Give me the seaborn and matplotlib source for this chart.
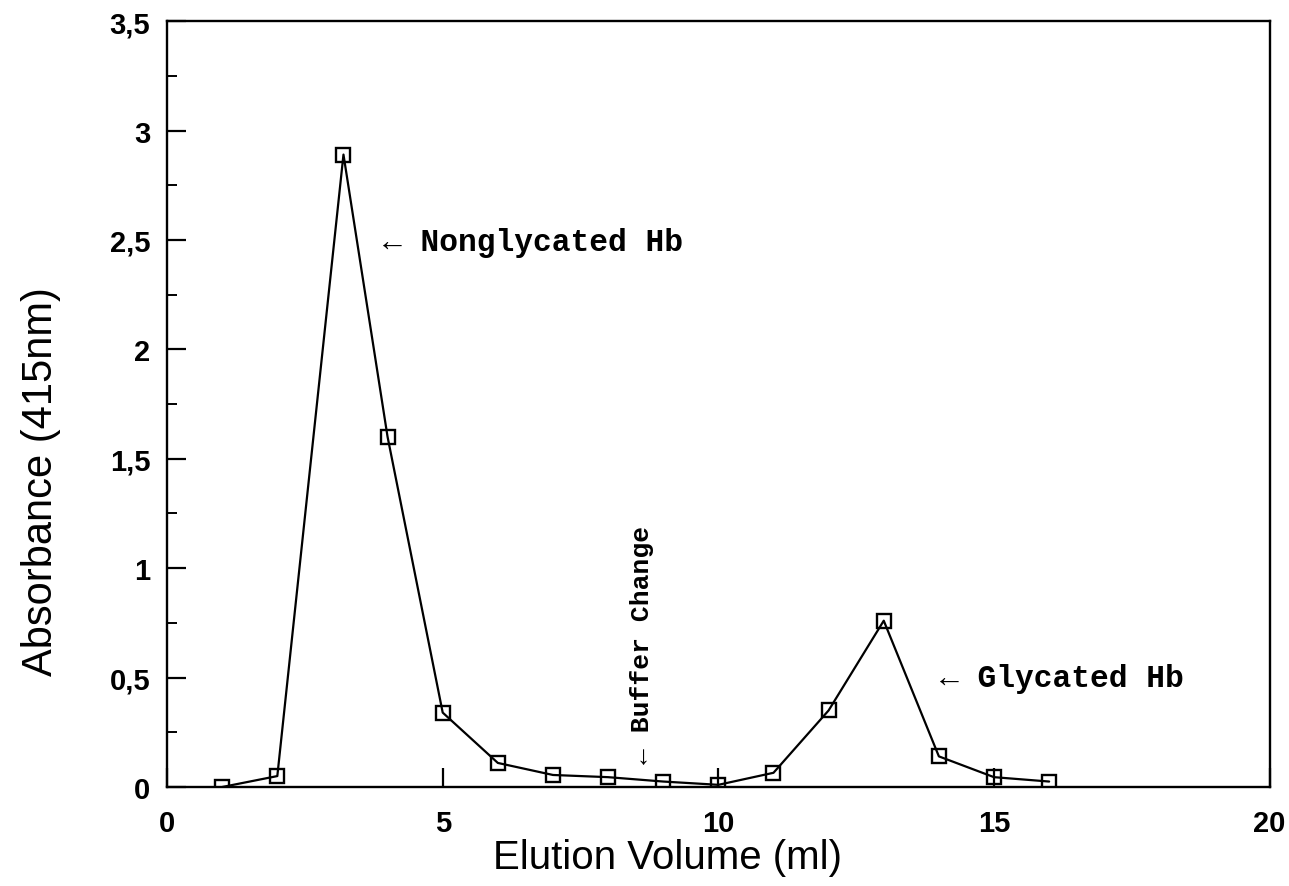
import matplotlib
matplotlib.use("Agg")
import matplotlib.pyplot as plt
import seaborn as sns
import pandas as pd
from matplotlib.ticker import FixedLocator, FixedFormatter, MultipleLocator

# Elution profile of haemoglobin on the affinity column
volume_ml = [1, 2, 3.2, 4, 5, 6, 7, 8, 9, 10, 11, 12, 13, 14, 15, 16]
absorbance = [0.0, 0.05, 2.89, 1.60, 0.34, 0.11, 0.055, 0.045, 0.025, 0.01,
              0.065, 0.35, 0.76, 0.14, 0.045, 0.025]

y_ticks = [0, 0.5, 1, 1.5, 2, 2.5, 3, 3.5]
y_tick_labels = ["0", "0,5", "1", "1,5", "2", "2,5", "3", "3,5"]
x_ticks = [0, 5, 10, 15, 20]
x_tick_labels = ["0", "5", "10", "15", "20"]

df = pd.DataFrame({"volume": volume_ml, "absorbance": absorbance})

sns.set_style("ticks")
plt.rcParams["font.family"] = ["Liberation Sans", "DejaVu Sans"]
for key in ["text.color", "axes.labelcolor", "xtick.color", "ytick.color",
            "axes.edgecolor"]:
    plt.rcParams[key] = "black"

fig = plt.figure(figsize=(12.89, 8.87), dpi=100)
ax = fig.add_axes([0.1296, 0.1116, 0.8554, 0.8635])

sns.lineplot(data=df, x="volume", y="absorbance", ax=ax, color="black",
             linewidth=1.6, marker="s", markersize=10, markerfacecolor="none",
             markeredgecolor="black", markeredgewidth=1.7)

ax.set_xlim(0, 20)
ax.set_ylim(0, 3.5)

ax.xaxis.set_major_locator(FixedLocator(x_ticks))
ax.xaxis.set_major_formatter(FixedFormatter(x_tick_labels))
ax.yaxis.set_major_locator(FixedLocator(y_ticks))
ax.yaxis.set_major_formatter(FixedFormatter(y_tick_labels))
ax.yaxis.set_minor_locator(MultipleLocator(0.25))

ax.tick_params(axis="both", which="major", direction="in", length=14, width=1.6,
               labelsize=21)
ax.tick_params(axis="x", which="major", pad=16)
ax.tick_params(axis="y", which="major", pad=12)
ax.tick_params(axis="y", which="minor", direction="in", length=7, width=1.4)
for lab in ax.get_xticklabels() + ax.get_yticklabels():
    lab.set_fontweight("bold")

for side in ["top", "right", "left", "bottom"]:
    ax.spines[side].set_visible(True)
    ax.spines[side].set_linewidth(1.7)

ax.set_xlabel("Elution Volume (ml)", fontsize=29, ha="center", va="center")
ax.xaxis.set_label_coords(0.454, -0.092)
ax.set_ylabel("Absorbance (415nm)", fontsize=30, ha="center", va="center")
ax.yaxis.set_label_coords(-0.114, 0.40)

mono = ["Liberation Mono", "DejaVu Sans Mono"]
ax.text(3.92, 2.49, "\u2190 Nonglycated Hb", family=mono, fontweight="bold",
        fontsize=22.5, ha="left", va="center")
ax.text(14.02, 0.5, "\u2190 Glycated Hb", family=mono, fontweight="bold",
        fontsize=22.5, ha="left", va="center")
ax.text(8.62, 0.11, "\u2190 Buffer Change", family=mono, fontweight="bold",
        fontsize=19, ha="center", va="bottom", rotation=90)

fig.savefig("out.png", dpi=100)
